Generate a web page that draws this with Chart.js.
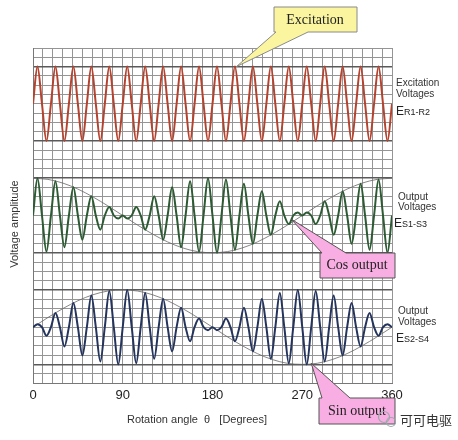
<!DOCTYPE html>
<html>
<head>
<meta charset="utf-8">
<script src="https://cdn.jsdelivr.net/npm/chart.js@4.4.0/dist/chart.umd.min.js"></script>
<style>
html, body { margin: 0; padding: 0; background: #fff; }
#wrap { width: 458px; height: 440px; }
</style>
</head>
<body>
<div id="wrap"><canvas id="chart" width="458" height="440"></canvas></div>
<script>
// ----------------------------------------------------
// DATA
// ----------------------------------------------------
const xTickLabels = [0, 90, 180, 270, 360];

// carrier extremes, one per half cycle (20 cycles over 0..360 deg)
const excitationPeaks = [
    1, -1, 1, -1, 1, -1, 1, -1, 1, -1,
    1, -1, 1, -1, 1, -1, 1, -1, 1, -1,
    1, -1, 1, -1, 1, -1, 1, -1, 1, -1,
    1, -1, 1, -1, 1, -1, 1, -1, 1, -1
];
const cosOutputPeaks = [
    1.00, -0.97, 0.92, -0.85, 0.76, -0.65, 0.52, -0.38, 0.23, -0.08,
    -0.08, 0.23, -0.38, 0.52, -0.65, 0.76, -0.85, 0.92, -0.97, 1.00,
    -1.00, 0.97, -0.92, 0.85, -0.76, 0.65, -0.52, 0.38, -0.23, 0.08,
    0.08, -0.23, 0.38, -0.52, 0.65, -0.76, 0.85, -0.92, 0.97, -1.00
];
const sinOutputPeaks = [
    0.08, -0.23, 0.38, -0.52, 0.65, -0.76, 0.85, -0.92, 0.97, -1.00,
    1.00, -0.97, 0.92, -0.85, 0.76, -0.65, 0.52, -0.38, 0.23, -0.08,
    -0.08, 0.23, -0.38, 0.52, -0.65, 0.76, -0.85, 0.92, -0.97, 1.00,
    -1.00, 0.97, -0.92, 0.85, -0.76, 0.65, -0.52, 0.38, -0.23, 0.08
];

// thin envelope lines, one value every 15 deg
const cosEnvelope = [
    1, 0.97, 0.87, 0.71, 0.5, 0.26, 0, -0.26, -0.5, -0.71, -0.87, -0.97, -1,
    -0.97, -0.87, -0.71, -0.5, -0.26, 0, 0.26, 0.5, 0.71, 0.87, 0.97, 1
];
const sinEnvelope = [
    0, 0.26, 0.5, 0.71, 0.87, 0.97, 1, 0.97, 0.87, 0.71, 0.5, 0.26, 0,
    -0.26, -0.5, -0.71, -0.87, -0.97, -1, -0.97, -0.87, -0.71, -0.5, -0.26, 0
];

// ----------------------------------------------------
// HELPERS
// ----------------------------------------------------
// carrier crosses zero between each pair of extremes
function carrierPoints(peaks) {
    const half = 360 / (peaks.length * 2);
    const pts = [{ x: 0, y: 0 }];
    peaks.forEach((v, i) => {
        pts.push({ x: half * (2 * i + 1), y: v });
        pts.push({ x: half * (2 * i + 2), y: 0 });
    });
    return pts;
}

function envelopePoints(vals) {
    const step = 360 / (vals.length - 1);
    return vals.map((v, i) => ({ x: i * step, y: v }));
}

function isMajor(v) {
    return Math.abs(Math.abs(v) - 1) < 1e-6;
}

function panelAxis() {
    return {
        type: "linear",
        position: "left",
        stack: "panels",
        stackWeight: 1,
        min: -1.5,
        max: 1.5,
        ticks: { stepSize: 0.25, display: false },
        grid: {
            drawTicks: false,
            color: c => isMajor(c.tick.value) ? "#5a5a5a" : "#959595",
            lineWidth: c => isMajor(c.tick.value) ? 1.6 : 1
        },
        border: { color: "#777" },
        afterFit(scale) { scale.width = 0; }
    };
}

const SANS = '"Liberation Sans", Arial, sans-serif';
const SERIF = '"Liberation Serif", "Times New Roman", serif';

function callout(ctx, path, fill, stroke, text, tx, ty) {
    ctx.beginPath();
    ctx.moveTo(path[0][0], path[0][1]);
    for (let i = 1; i < path.length; i++) ctx.lineTo(path[i][0], path[i][1]);
    ctx.closePath();
    ctx.fillStyle = fill;
    ctx.fill();
    ctx.lineWidth = 1;
    ctx.strokeStyle = stroke;
    ctx.stroke();
    ctx.fillStyle = "#222";
    ctx.font = "14px " + SERIF;
    ctx.textAlign = "center";
    ctx.textBaseline = "middle";
    ctx.fillText(text, tx, ty);
}

function subLabel(ctx, big, small, x, y) {
    ctx.textAlign = "left";
    ctx.textBaseline = "alphabetic";
    ctx.font = "12px " + SANS;
    ctx.fillText(big, x, y);
    const w = ctx.measureText(big).width;
    ctx.font = "9px " + SANS;
    ctx.fillText(small, x + w, y);
}

// ----------------------------------------------------
// TEXT + CALLOUTS PLUGIN
// ----------------------------------------------------
const annotationsPlugin = {
    id: "annotations",
    afterDraw(chart) {
        const { ctx } = chart;
        const x = chart.scales.x;
        const yE = chart.scales.yE, yC = chart.scales.yC, yS = chart.scales.yS;
        ctx.save();

        // right-hand labels
        ctx.fillStyle = "#333";
        ctx.font = "10px " + SANS;
        ctx.textAlign = "left";
        ctx.textBaseline = "middle";
        ctx.fillText("Excitation", 396, 83);
        ctx.fillText("Voltages", 396, 94);
        ctx.fillText("Output", 398, 197);
        ctx.fillText("Voltages", 398, 207);
        ctx.fillText("Output", 398, 311);
        ctx.fillText("Voltages", 398, 322);
        ctx.fillStyle = "#222";
        subLabel(ctx, "E", "R1-R2", 396, 115);
        subLabel(ctx, "E", "S1-S3", 394, 227);
        subLabel(ctx, "E", "S2-S4", 396, 342);

        // axis titles
        ctx.fillStyle = "#333";
        ctx.font = "11px " + SANS;
        ctx.textAlign = "left";
        ctx.textBaseline = "middle";
        ctx.fillText("Rotation angle  \u03b8   [Degrees]", 127, 420);
        ctx.save();
        ctx.translate(15, 224);
        ctx.rotate(-Math.PI / 2);
        ctx.textAlign = "center";
        ctx.fillText("Voltage amplitude", 0, 0);
        ctx.restore();

        // callouts, tips anchored on the data scales
        const tE = [x.getPixelForValue(204), yE.getPixelForValue(1)];
        callout(ctx, [[274, 7], [357, 7], [357, 32], [308, 32], tE, [276, 32], [274, 32]],
            "#faf59e", "#8a8a8a", "Excitation", 315, 20);

        const tC = [x.getPixelForValue(259), yC.getPixelForValue(-0.1)];
        callout(ctx, [[320, 253], [322, 253], tC, [346, 253], [395, 253], [395, 278], [320, 278]],
            "#f8aee2", "#555", "Cos output", 357, 265);

        const tS = [x.getPixelForValue(279), yS.getPixelForValue(-0.97)];
        callout(ctx, [[319, 398], [322, 398], tS, [350, 398], [395, 398], [395, 424], [319, 424]],
            "#f8aee2", "#555", "Sin output", 357, 411);

        // watermark
        ctx.strokeStyle = "#9aa";
        ctx.lineWidth = 1.2;
        ctx.beginPath();
        ctx.arc(384, 417, 5.5, 0, Math.PI * 2);
        ctx.stroke();
        ctx.beginPath();
        ctx.arc(391, 422, 4.5, 0, Math.PI * 2);
        ctx.stroke();
        ctx.fillStyle = "#333";
        ctx.font = '13px "Noto Sans CJK SC", sans-serif';
        ctx.textAlign = "left";
        ctx.textBaseline = "middle";
        ctx.fillText("可可电驱", 400, 420);

        ctx.restore();
    }
};

// ----------------------------------------------------
// CHART
// ----------------------------------------------------
const lineStyle = {
    pointRadius: 0,
    fill: false,
    cubicInterpolationMode: "monotone"
};

new Chart(document.getElementById("chart"), {
    type: "line",
    data: {
        datasets: [
            { ...lineStyle, data: carrierPoints(excitationPeaks), yAxisID: "yE", borderColor: "#b3432f", borderWidth: 2 },
            { ...lineStyle, data: carrierPoints(cosOutputPeaks), yAxisID: "yC", borderColor: "#2c5a32", borderWidth: 2 },
            { ...lineStyle, data: carrierPoints(sinOutputPeaks), yAxisID: "yS", borderColor: "#24345c", borderWidth: 2 },
            { ...lineStyle, data: envelopePoints(cosEnvelope), yAxisID: "yC", borderColor: "#666", borderWidth: 0.8 },
            { ...lineStyle, data: envelopePoints(sinEnvelope), yAxisID: "yS", borderColor: "#666", borderWidth: 0.8 }
        ]
    },
    options: {
        responsive: false,
        animation: false,
        devicePixelRatio: 1,
        layout: { padding: { left: 33, right: 66, top: 48, bottom: 0 } },
        plugins: { legend: { display: false }, tooltip: { enabled: false } },
        scales: {
            x: {
                type: "linear",
                min: 0,
                max: 360,
                ticks: {
                    stepSize: 10,
                    autoSkip: false,
                    maxRotation: 0,
                    padding: 5,
                    color: "#222",
                    font: { family: '"Liberation Sans Narrow", "Arial Narrow", ' + SANS, size: 13 },
                    callback: v => xTickLabels.includes(v) ? String(v) : ""
                },
                grid: { color: "#959595", drawTicks: false },
                border: { color: "#777" },
                afterFit(scale) { scale.height = 57; }
            },
            // stacked panels: the last one listed ends up on top
            yS: panelAxis(),
            yC: panelAxis(),
            yE: panelAxis()
        }
    },
    plugins: [annotationsPlugin]
});
</script>
</body>
</html>
